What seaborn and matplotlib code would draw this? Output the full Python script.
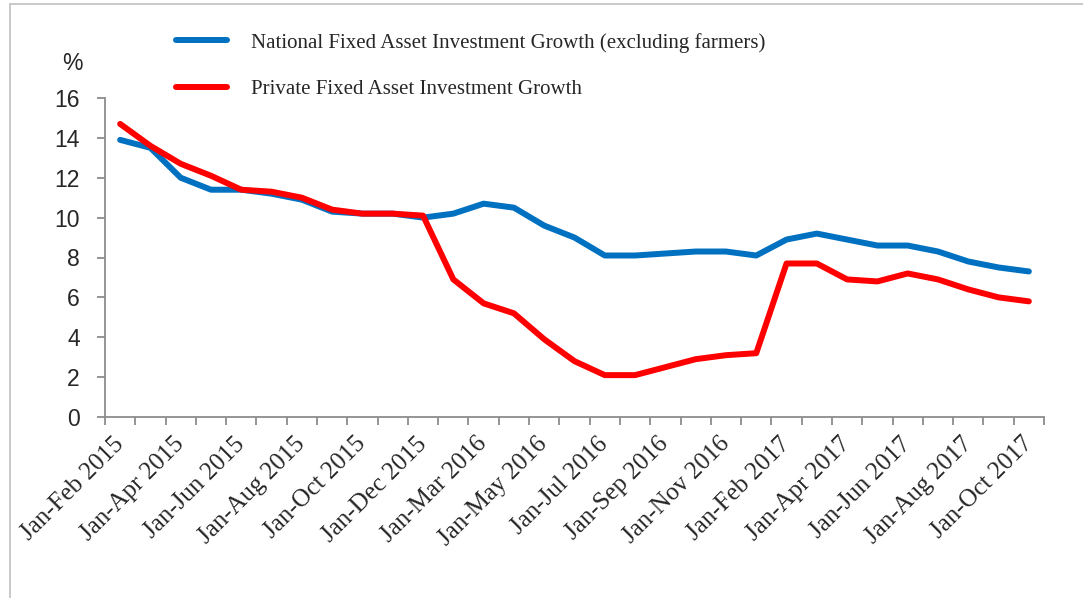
import matplotlib
matplotlib.use("Agg")
import matplotlib.pyplot as plt
from matplotlib.lines import Line2D
import seaborn as sns
import pandas as pd

# Cumulative reporting periods (year-to-date)
months_2015 = ["Feb", "Mar", "Apr", "May", "Jun", "Jul", "Aug", "Sep", "Oct", "Nov", "Dec"]
months_2016 = ["Feb", "Mar", "Apr", "May", "Jun", "Jul", "Aug", "Sep", "Oct", "Nov", "Dec"]
months_2017 = ["Feb", "Mar", "Apr", "May", "Jun", "Jul", "Aug", "Sep", "Oct"]
periods = ([f"Jan-{m} 2015" for m in months_2015]
           + [f"Jan-{m} 2016" for m in months_2016]
           + [f"Jan-{m} 2017" for m in months_2017])

# Year-on-year growth, %
national_fai = [13.9, 13.5, 12.0, 11.4, 11.4, 11.2, 10.9, 10.3, 10.2, 10.2, 10.0,
                10.2, 10.7, 10.5, 9.6, 9.0, 8.1, 8.1, 8.2, 8.3, 8.3, 8.1,
                8.9, 9.2, 8.9, 8.6, 8.6, 8.3, 7.8, 7.5, 7.3]
private_fai = [14.7, 13.6, 12.7, 12.1, 11.4, 11.3, 11.0, 10.4, 10.2, 10.2, 10.1,
               6.9, 5.7, 5.2, 3.9, 2.8, 2.1, 2.1, 2.5, 2.9, 3.1, 3.2,
               7.7, 7.7, 6.9, 6.8, 7.2, 6.9, 6.4, 6.0, 5.8]

series_names = ["National Fixed Asset Investment Growth (excluding farmers)",
                "Private Fixed Asset Investment Growth"]
series_colors = ["#0070C0", "#FF0000"]
y_ticks = [0, 2, 4, 6, 8, 10, 12, 14, 16]

df = pd.DataFrame({
    "period": periods * 2,
    "growth": national_fai + private_fai,
    "series": [series_names[0]] * len(periods) + [series_names[1]] * len(periods),
})

sns.set_style("white")
plt.rcParams["font.family"] = ["Liberation Sans", "DejaVu Sans"]

W, H = 1083, 598
fig = plt.figure(figsize=(W / 100, H / 100), dpi=100)
ax = fig.add_axes([105 / W, 1 - 417 / H, (1044 - 105) / W, (417 - 98) / H])

sns.lineplot(data=df, x="period", y="growth", hue="series", hue_order=series_names,
             palette=series_colors, linewidth=4.3, sort=False, ax=ax, legend=False)
for ln in ax.lines:
    ln.set_solid_capstyle("round")
    ln.set_solid_joinstyle("round")

n = len(periods)
ax.set_xlim(-0.5, n - 0.5)
ax.set_ylim(0, 16)
ax.set_xlabel("")
ax.set_ylabel("")

# Category boundary ticks plus labels on every other period
ax.set_xticks([i - 0.5 for i in range(n + 1)])
ax.set_xticklabels([])
label_pos = list(range(0, n, 2))
ax.set_xticks(label_pos, minor=True)
ax.set_xticklabels([periods[i] for i in label_pos], minor=True, rotation=45,
                   ha="right", va="center", rotation_mode="anchor",
                   fontsize=18, family=["Liberation Serif", "DejaVu Serif"])
ax.tick_params(axis="x", which="major", direction="out", length=6, width=1.3,
               color="#8C8C8C", bottom=True)
ax.tick_params(axis="x", which="minor", length=0, pad=17, bottom=True)

ax.set_yticks(y_ticks)
ax.set_yticklabels([str(v) for v in y_ticks])
ax.tick_params(axis="y", direction="out", length=6, width=1.3, color="#8C8C8C",
               labelsize=16.5, pad=12, left=True)

for side in ["top", "right"]:
    ax.spines[side].set_visible(False)
for side in ["left", "bottom"]:
    ax.spines[side].set_color("#8C8C8C")
    ax.spines[side].set_linewidth(1.3)

fig.text(72 / W, 1 - 63 / H, "%", ha="center", va="center", fontsize=16.5)

handles = [Line2D([], [], color=c, linewidth=4.3, solid_capstyle="round")
           for c in series_colors]
fig.legend(handles, series_names, loc="upper left",
           bbox_to_anchor=(157 / W, 1 - 14 / H), frameon=False,
           prop={"family": ["Liberation Serif", "DejaVu Serif"], "size": 15},
           handlelength=2.45, handletextpad=1.15, labelspacing=1.3)

# Outer frame
frame_kw = dict(color="#C0C0C0", linewidth=1.2, transform=fig.transFigure)
fig.add_artist(Line2D([10 / W, 10 / W], [0, 1 - 4 / H], **frame_kw))
fig.add_artist(Line2D([10 / W, 1], [1 - 4 / H, 1 - 4 / H], **frame_kw))

fig.savefig("out.png", dpi=100, facecolor="white")
